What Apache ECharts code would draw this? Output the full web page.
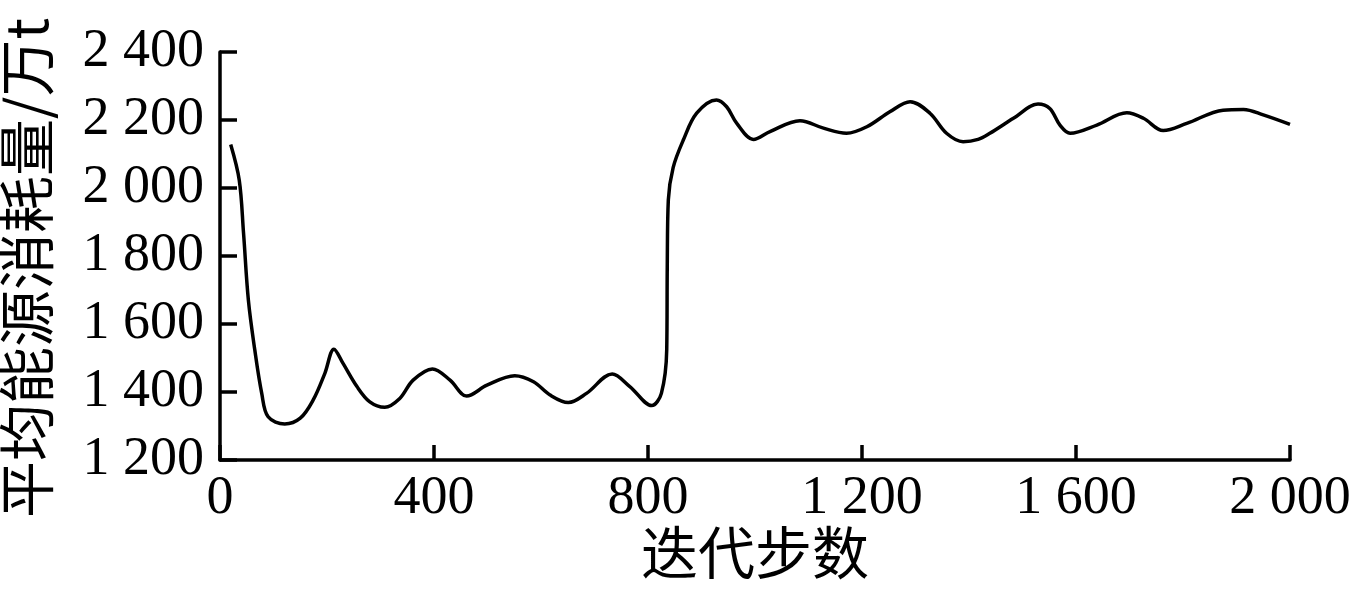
<!DOCTYPE html>
<html>
<head>
<meta charset="utf-8">
<script src="https://cdn.jsdelivr.net/npm/echarts@6/dist/echarts.min.js"></script>
<style>
html,body{margin:0;padding:0;background:#fff;}
#c{width:1372px;height:609px;}
</style>
</head>
<body>
<div id="c"></div>
<script>
// Data
const steps = [20,36,44,53,65,78,90,121,150,174,196,213,230,256,280,308,336,361,397,430,461,499,551,586,617,651,685,733,766,807,825,835,836,838,847,866,891,928,947,966,997,1028,1084,1128,1171,1209,1252,1290,1327,1358,1389,1417,1439,1483,1529,1551,1570,1589,1639,1695,1726,1763,1807,1875,1913,1950,2000];
const energy = [2128,2023,1867,1671,1524,1396,1327,1306,1323,1376,1455,1526,1484,1416,1371,1355,1381,1435,1468,1435,1388,1420,1448,1430,1391,1369,1396,1453,1416,1360,1396,1524,1768,1965,2060,2141,2220,2259,2239,2190,2143,2166,2198,2176,2161,2180,2224,2254,2220,2161,2136,2143,2161,2205,2247,2234,2185,2161,2185,2221,2205,2169,2190,2229,2231,2215,2187];
const xTicks = [0,400,800,1200,1600,2000];
const yTicks = [1200,1400,1600,1800,2000,2200,2400];
const xTitle = '迭代步数';
const yTitle = '平均能源消耗量/万t';

function fmt(v){
  if (v >= 1000) { return Math.floor(v/1000) + ' ' + String(v % 1000).padStart(3,'0'); }
  return String(v);
}
const FONT = "'Liberation Serif','Noto Sans CJK SC',serif";
const CJK = "'Noto Sans CJK SC',sans-serif";
const chart = echarts.init(document.getElementById('c'), null, {renderer:'canvas'});
chart.setOption({
  backgroundColor:'#ffffff',
  animation:false,
  grid:{left:220,right:82,top:52,bottom:149,containLabel:false,outerBoundsMode:'none'},
  xAxis:{
    type:'value',
    min:xTicks[0], max:xTicks[xTicks.length-1], interval:400,
    name:xTitle, nameLocation:'middle', nameGap:66,
    nameTextStyle:{fontFamily:FONT,fontSize:57,color:'#000'},
    axisLine:{show:true,lineStyle:{color:'#000',width:3.5}},
    axisTick:{show:true,inside:true,length:15,lineStyle:{color:'#000',width:3.5}},
    axisLabel:{fontFamily:FONT,fontSize:54,color:'#000',margin:12,formatter:fmt},
    splitLine:{show:false}
  },
  yAxis:{
    type:'value',
    min:yTicks[0], max:yTicks[yTicks.length-1], interval:200,
    name:yTitle, nameLocation:'middle', nameGap:165, nameRotate:90,
    nameTextStyle:{fontFamily:CJK,fontSize:57,color:'#000',padding:[0,24,0,0]},
    axisLine:{show:true,lineStyle:{color:'#000',width:3.5}},
    axisTick:{show:true,inside:true,length:17,lineStyle:{color:'#000',width:3.5}},
    axisLabel:{fontFamily:FONT,fontSize:54,color:'#000',margin:16,formatter:fmt},
    splitLine:{show:false}
  },
  series:[{
    type:'line',
    data: steps.map((s,i)=>[s, energy[i]]),
    showSymbol:false,
    smooth:0.35,
    lineStyle:{color:'#000',width:3.5},
    itemStyle:{color:'#000'}
  }]
});
</script>
</body>
</html>
